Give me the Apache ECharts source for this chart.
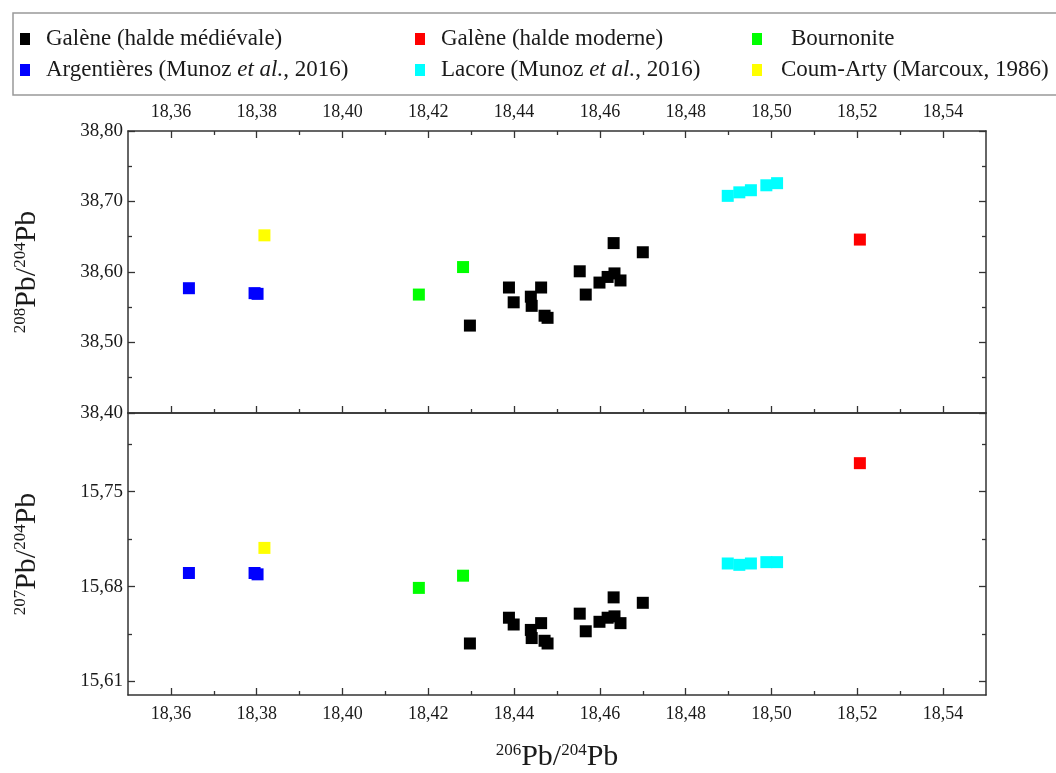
<!DOCTYPE html>
<html><head><meta charset="utf-8">
<script src="https://cdn.jsdelivr.net/npm/echarts@6/dist/echarts.min.js"></script>
<style>html,body{margin:0;padding:0;background:#fff}#c{width:1056px;height:773px}</style>
</head><body><div id="c"></div>
<script>
// ---- data ----
const names = ['Galène (halde médiévale)', 'Galène (halde moderne)', 'Bournonite',
  'Argentières (Munoz et al., 2016)', 'Lacore (Munoz et al., 2016)', 'Coum-Arty (Marcoux, 1986)'];
const colors = ['#000000', '#ff0000', '#00ff00', '#0000ff', '#00ffff', '#ffff00'];

const medX   = [18.4297, 18.4388, 18.4399, 18.4439, 18.4441, 18.4463, 18.4471, 18.4478, 18.4553, 18.4567, 18.4599, 18.4618, 18.4634, 18.4648, 18.4632, 18.4700];
const med208 = [38.524, 38.578, 38.557, 38.565, 38.552, 38.578, 38.538, 38.535, 38.601, 38.568, 38.585, 38.593, 38.598, 38.588, 38.641, 38.628];
const med207 = [15.638, 15.657, 15.652, 15.648, 15.642, 15.653, 15.640, 15.638, 15.660, 15.647, 15.654, 15.657, 15.658, 15.653, 15.672, 15.668];

const modX = [18.5206];
const mod208 = [38.646];
const mod207 = [15.771];

const bouX = [18.4178, 18.4281];
const bou208 = [38.568, 38.607];
const bou207 = [15.679, 15.688];

const argX = [18.3642, 18.3795, 18.3802];
const arg208 = [38.577, 38.570, 38.569];
const arg207 = [15.690, 15.690, 15.689];

const lacX = [18.4898, 18.4925, 18.4952, 18.4988, 18.5013];
const lac208 = [38.708, 38.713, 38.716, 38.723, 38.726];
const lac207 = [15.697, 15.696, 15.697, 15.698, 15.698];

const couX = [18.3818];
const cou208 = [38.652];
const cou207 = [15.7085];

const xMajor = [18.36, 18.38, 18.40, 18.42, 18.44, 18.46, 18.48, 18.50, 18.52, 18.54];
const xMinor = [18.37, 18.39, 18.41, 18.43, 18.45, 18.47, 18.49, 18.51, 18.53];
const y208Major = [38.40, 38.50, 38.60, 38.70, 38.80];
const y208Minor = [38.45, 38.55, 38.65, 38.75];
const y207Major = [15.61, 15.68, 15.75];
const y207Minor = [15.645, 15.715, 15.785];

// ---- chart ----
const FONT = 'Liberation Serif';
const TXT = '#1a1a1a';
const LINE = '#333';
const fmt = v => v.toFixed(2).replace('.', ',');

const groups = [
  [medX, med208, med207], [modX, mod208, mod207], [bouX, bou208, bou207],
  [argX, arg208, arg207], [lacX, lac208, lac207], [couX, cou208, cou207]
];

const series = [];
groups.forEach((g, i) => {
  const [xs, a, b] = g;
  const common = { name: names[i], type: 'scatter', symbol: 'rect', symbolSize: 12,
    itemStyle: { color: colors[i], opacity: 1 }, emphasis: { disabled: true }, z: i === 0 ? 3 : 2 };
  series.push(Object.assign({}, common, { xAxisIndex: 0, yAxisIndex: 0, data: xs.map((x, k) => [x, a[k]]) }));
  series.push(Object.assign({}, common, { xAxisIndex: 4, yAxisIndex: 4, data: xs.map((x, k) => [x, b[k]]) }));
});

function xAx(grid, pos, ticks, len, labels, line) {
  return {
    type: 'value', gridIndex: grid, position: pos, min: 18.35, max: 18.55,
    axisLine: { show: line, onZero: false, lineStyle: { color: LINE, width: 1.5 } },
    axisTick: { show: !!ticks, inside: true, length: len, customValues: ticks || [], lineStyle: { color: LINE, width: 1.3 } },
    axisLabel: labels ? { show: true, customValues: ticks, formatter: fmt, margin: 10,
      fontFamily: FONT, fontSize: 18, color: TXT } : { show: false },
    splitLine: { show: false }
  };
}
function yAx(grid, pos, min, max, ticks, len, labels, line) {
  return {
    type: 'value', gridIndex: grid, position: pos, min: min, max: max,
    axisLine: { show: line, onZero: false, lineStyle: { color: LINE, width: 1.5 } },
    axisTick: { show: !!ticks, inside: true, length: len, customValues: ticks || [], lineStyle: { color: LINE, width: 1.3 } },
    axisLabel: labels ? { show: true, customValues: ticks, formatter: fmt, margin: 5,
      fontFamily: FONT, fontSize: 19, color: TXT } : { show: false },
    splitLine: { show: false }
  };
}

const titleRich = {
  sup: { fontFamily: FONT, fontSize: 17, color: TXT, verticalAlign: 'top', lineHeight: 30 },
  pb: { fontFamily: FONT, fontSize: 30, color: TXT, lineHeight: 30 }
};
const titleText = (a, b) => `{sup|${a}}{pb|Pb/}{sup|${b}}{pb|Pb}`;

const xAxes = [
  xAx(0, 'top', xMajor, 7, true, true),
  xAx(0, 'top', xMinor, 4, false, false),
  xAx(0, 'bottom', xMajor, 7, false, true),
  xAx(0, 'bottom', xMinor, 4, false, false),
  Object.assign(xAx(1, 'bottom', xMajor, 7, true, true), {
    name: titleText('206', '204'), nameLocation: 'middle', nameGap: 47,
    nameTextStyle: { rich: titleRich }
  }),
  xAx(1, 'bottom', xMinor, 4, false, false),
  xAx(1, 'top', null, 0, false, true)
];
const yAxes = [
  Object.assign(yAx(0, 'left', 38.40, 38.80, y208Major, 7, true, true), {
    name: titleText('208', '204'), nameLocation: 'middle', nameGap: 86, nameRotate: 90,
    nameTextStyle: { rich: titleRich }
  }),
  yAx(0, 'left', 38.40, 38.80, y208Minor, 4, false, false),
  yAx(0, 'right', 38.40, 38.80, y208Major, 7, false, true),
  yAx(0, 'right', 38.40, 38.80, y208Minor, 4, false, false),
  Object.assign(yAx(1, 'left', 15.60, 15.808, y207Major, 7, true, true), {
    name: titleText('207', '204'), nameLocation: 'middle', nameGap: 86, nameRotate: 90,
    nameTextStyle: { rich: titleRich }
  }),
  yAx(1, 'left', 15.60, 15.808, y207Minor, 4, false, false),
  yAx(1, 'right', 15.60, 15.808, y207Major, 7, false, true),
  yAx(1, 'right', 15.60, 15.808, y207Minor, 4, false, false)
];

// legend cells: [series index, left, top, text padding]
const legendCells = [[0, 20, 26, 11], [3, 20, 57, 11], [1, 415, 26, 11], [4, 415, 57, 11], [2, 752, 26, 24], [5, 752, 57, 14]];
const legends = legendCells.map(([idx, left, top, pad]) => ({
  orient: 'horizontal', left: left, top: top, itemWidth: 10, itemHeight: 12,
  icon: 'rect', selectedMode: false, padding: 0,
  data: [names[idx]],
  formatter: n => n.replace('et al.', '{i|et al.}'),
  textStyle: { fontFamily: FONT, fontSize: 23, color: TXT, lineHeight: 26, padding: [0, 0, 0, pad],
    rich: { i: { fontFamily: FONT, fontSize: 23, fontStyle: 'italic', color: TXT, lineHeight: 26 } } }
}));

const chart = echarts.init(document.getElementById('c'), null, { renderer: 'canvas' });
chart.setOption({
  animation: false,
  backgroundColor: '#fff',
  grid: [
    { left: 128, right: 70, top: 131, height: 282 },
    { left: 128, right: 70, top: 413, height: 284 }
  ],
  graphic: [{ type: 'rect', shape: { x: 13, y: 13, width: 1060, height: 82 },
    style: { fill: 'none', stroke: '#999', lineWidth: 1.5 }, silent: true }],
  legend: legends,
  xAxis: xAxes,
  yAxis: yAxes,
  series: series
});
</script></body></html>
